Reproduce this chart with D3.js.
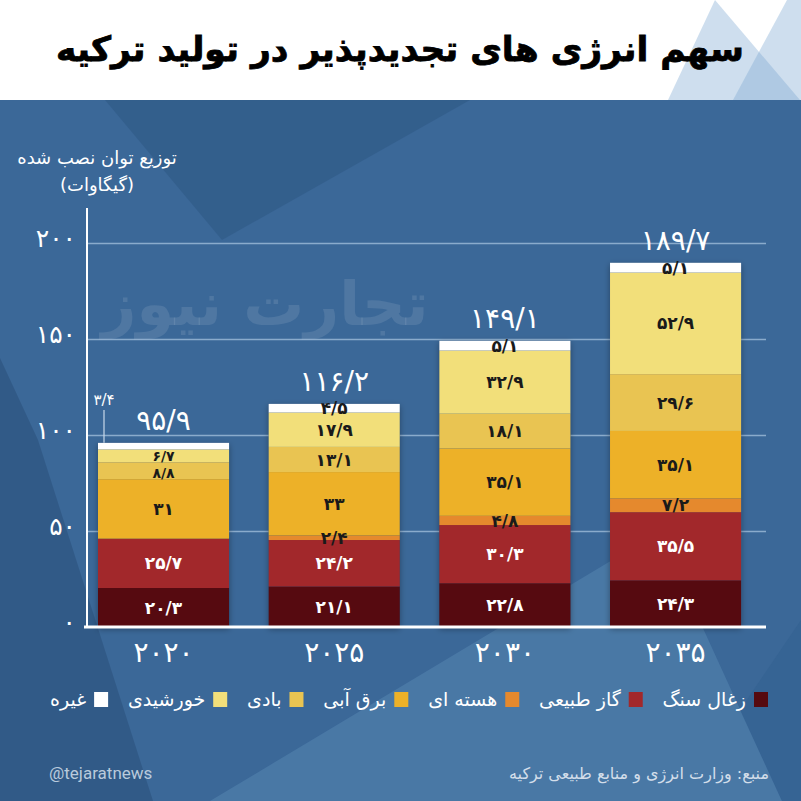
<!DOCTYPE html>
<html><head><meta charset="utf-8">
<script src="https://cdn.jsdelivr.net/npm/d3@7"></script>
<style>html,body{margin:0;padding:0;background:#fff;} svg{display:block;}</style>
</head><body>
<svg id="chart" width="801" height="801"></svg>
<script>
// ---------- data ----------
const years = ["2020", "2025", "2030", "2035"];
const yearLabels = ["۲۰۲۰", "۲۰۲۵", "۲۰۳۰", "۲۰۳۵"];
const seriesKeys = ["coal", "gas", "nuclear", "hydro", "wind", "solar", "other"];
const seriesNames = ["زغال سنگ", "گاز طبیعی", "هسته ای", "برق آبی", "بادی", "خورشیدی", "غیره"];
const coal    = [20.3, 21.1, 22.8, 24.3];
const gas     = [25.7, 24.2, 30.3, 35.5];
const nuclear = [0,    2.4,  4.8,  7.2];
const hydro   = [31,   33,   35.1, 35.1];
const wind    = [8.8,  13.1, 18.1, 29.6];
const solar   = [6.7,  17.9, 32.9, 52.9];
const other   = [3.4,  4.5,  5.1,  5.1];
const totals  = [95.9, 116.2, 149.1, 189.7];
const yTicks  = [0, 50, 100, 150, 200];
const titleText = "سهم انرژی های تجدیدپذیر در تولید ترکیه";
const axisTitle1 = "توزیع توان نصب شده";
const axisTitle2 = "(گیگاوات)";
const sourceText = "منبع: وزارت انرژی و منابع طبیعی ترکیه";
const handleText = "@tejaratnews";
const watermarkText = "تجارت نیوز";

// ---------- styles ----------
const colors = ["#560a10", "#a2282b", "#e5892d", "#edb128", "#e9c452", "#f2df7a", "#ffffff"];
const FA = "'DejaVu Sans', sans-serif";
const faDigits = "۰۱۲۳۴۵۶۷۸۹";
const fa = v => String(v).replace(".", "/").replace(/\d/g, d => faDigits[+d]);

const rows = years.map((y, i) => ({
  year: y, coal: coal[i], gas: gas[i], nuclear: nuclear[i], hydro: hydro[i],
  wind: wind[i], solar: solar[i], other: other[i], total: totals[i]
}));

const svg = d3.select("#chart");
const defs = svg.append("defs");
const f = defs.append("filter").attr("id", "shadow").attr("x", "-20%").attr("y", "-20%").attr("width", "140%").attr("height", "140%");
f.append("feDropShadow").attr("dx", 0).attr("dy", 2).attr("stdDeviation", 3).attr("flood-color", "#000").attr("flood-opacity", 0.35);

// ---------- background ----------
svg.append("rect").attr("width", 801).attr("height", 801).attr("fill", "#ffffff");
const tri = svg.append("g").attr("fill", "#7fa9d2").attr("fill-opacity", 0.38);
tri.append("polygon").attr("points", "715,0 668,100 800,100");
tri.append("polygon").attr("points", "787,0 801,0 801,100 733,100");

svg.append("rect").attr("x", 0).attr("y", 100).attr("width", 801).attr("height", 701).attr("fill", "#3b6898");
svg.append("polygon").attr("points", "105,100 470,100 222,240").attr("fill", "#325d8a").attr("opacity", 0.8);
svg.append("polygon").attr("points", "0,358 38,440 153,801 0,801").attr("fill", "#2f5682").attr("opacity", 0.75);
svg.append("polygon").attr("points", "210,801 659,532 782,801").attr("fill", "#5585b1").attr("opacity", 0.55);
svg.append("polygon").attr("points", "782,801 740,710 801,620 801,801").attr("fill", "#32608f").attr("opacity", 0.5);

// title
const title = svg.append("text").attr("x", 400).attr("y", 61).attr("text-anchor", "middle")
  .attr("font-family", FA).attr("font-weight", "bold").attr("font-size", 40).attr("fill", "#000")
  .attr("stroke", "#000").attr("stroke-width", 0.8).text(titleText);
{
  const w = title.node().getComputedTextLength();
  title.attr("font-size", Math.min(48, 40 * 688 / w));
}

// watermark
const wm = svg.append("text").attr("x", 265).attr("y", 325).attr("text-anchor", "middle")
  .attr("font-family", FA).attr("font-weight", "bold").attr("font-size", 70)
  .attr("fill", "#ffffff").attr("fill-opacity", 0.1).text(watermarkText);
{
  const w = wm.node().getComputedTextLength();
  wm.attr("font-size", 70 * 327 / w);
}

// ---------- scales ----------
const x = d3.scaleBand().domain(years).range([78.2, 760.9]).paddingInner(0.232).paddingOuter(0.116);
const y = d3.scaleLinear().domain([0, 200]).range([627, 243]);

// grid + y axis
const yAxis = d3.axisLeft(y).tickValues(yTicks).tickSize(-(766 - 87)).tickPadding(11).tickFormat(fa);
const gy = svg.append("g").attr("transform", "translate(87,0)").call(yAxis);
gy.select(".domain").remove();
gy.selectAll(".tick line").attr("stroke", "#9fbcd9").attr("stroke-width", 1.5).attr("opacity", d => d === 0 ? 0 : 0.8);
gy.selectAll(".tick text").attr("fill", "#ffffff").attr("font-family", FA).attr("font-size", 25).attr("dy", "0.15em");

// vertical axis line
svg.append("line").attr("x1", 87).attr("x2", 87).attr("y1", 208).attr("y2", 627).attr("stroke", "#ffffff").attr("stroke-width", 2);

// axis title
svg.append("text").attr("x", 97).attr("y", 164).attr("text-anchor", "middle").attr("font-family", FA)
  .attr("font-size", 18).attr("fill", "#ffffff").text(axisTitle1);
svg.append("text").attr("x", 97).attr("y", 191).attr("text-anchor", "middle").attr("font-family", FA)
  .attr("font-size", 18).attr("fill", "#ffffff").text(axisTitle2);

// ---------- bars ----------
const stacked = d3.stack().keys(seriesKeys)(rows);
const barsG = svg.append("g");
barsG.selectAll("rect.sh").data(rows).join("rect").attr("class", "sh")
  .attr("x", d => x(d.year)).attr("width", x.bandwidth())
  .attr("y", d => y(d.total)).attr("height", d => y(0) - y(d.total))
  .attr("fill", "#2a4a70").attr("filter", "url(#shadow)");

stacked.forEach((s, si) => {
  barsG.append("g").selectAll("rect").data(s).join("rect")
    .attr("x", d => x(d.data.year)).attr("width", x.bandwidth())
    .attr("y", d => y(d[1])).attr("height", d => Math.max(0, y(d[0]) - y(d[1])))
    .attr("fill", colors[si]);
});

// segment labels
const labG = svg.append("g").attr("font-family", FA).attr("font-weight", "bold").attr("text-anchor", "middle");
stacked.forEach((s, si) => {
  s.forEach(d => {
    const val = d.data[s.key];
    if (!val) return;
    const h = y(d[0]) - y(d[1]);
    const cx = x(d.data.year) + x.bandwidth() / 2;
    if (s.key === "other" && val < 4) {
      const lx = x(d.data.year) + 6;
      svg.append("line").attr("x1", lx).attr("x2", lx).attr("y1", 410).attr("y2", y(d[1]))
        .attr("stroke", "#c8d8ea").attr("stroke-width", 1.2);
      svg.append("text").attr("x", lx).attr("y", 405).attr("text-anchor", "middle").attr("font-family", FA)
        .attr("font-size", 15).attr("fill", "#ffffff").text(fa(val));
      return;
    }
    const small = h < 20 && (s.key === "wind" || s.key === "solar");
    labG.append("text").attr("x", cx).attr("y", (y(d[0]) + y(d[1])) / 2 + (small && s.key === "wind" ? 2 : 0))
      .attr("dy", "0.36em")
      .attr("font-size", small ? 14 : 17).attr("fill", si < 2 ? "#ffffff" : "#1a1a1a").text(fa(val));
  });
});

// total labels
svg.append("g").selectAll("text").data(rows).join("text")
  .attr("x", d => x(d.year) + x.bandwidth() / 2).attr("y", d => y(d.total) - 13)
  .attr("text-anchor", "middle").attr("font-family", FA).attr("font-size", 28)
  .attr("fill", "#ffffff").text(d => fa(d.total));

// baseline
svg.append("line").attr("x1", 84).attr("x2", 766).attr("y1", 627).attr("y2", 627).attr("stroke", "#ffffff").attr("stroke-width", 3);

// x axis labels
const xAxis = d3.axisBottom(x).tickSize(0).tickPadding(15).tickFormat((d, i) => yearLabels[i]);
const gx = svg.append("g").attr("transform", "translate(0,627)").call(xAxis);
gx.select(".domain").remove();
gx.selectAll(".tick text").attr("fill", "#ffffff").attr("font-family", FA).attr("font-size", 28);

// ---------- legend ----------
const lg = svg.append("g").attr("font-family", FA).attr("font-size", 19).attr("fill", "#ffffff");
const items = seriesNames.map((n, i) => {
  const g = lg.append("g");
  g.append("rect").attr("width", 14).attr("height", 15).attr("y", 692).attr("fill", colors[i]);
  const t = g.append("text").attr("y", 706).attr("text-anchor", "end").text(n);
  return { g, t, w: t.node().getComputedTextLength() };
});
const totalW = d3.sum(items, d => d.w + 22);
const gap = (768 - 50 - totalW) / (items.length - 1);
let xr = 768;
items.forEach(it => {
  it.g.select("rect").attr("x", xr - 14);
  it.t.attr("x", xr - 22);
  xr = xr - 22 - it.w - gap;
});

// ---------- footer ----------
svg.append("text").attr("x", 49).attr("y", 779).attr("font-family", "Roboto, sans-serif").attr("font-size", 17)
  .attr("fill", "#b9cadc").text(handleText);
svg.append("text").attr("x", 769).attr("y", 779).attr("text-anchor", "end").attr("font-family", FA).attr("font-size", 16)
  .attr("fill", "#d3deea").text(sourceText);
</script>
</body></html>
